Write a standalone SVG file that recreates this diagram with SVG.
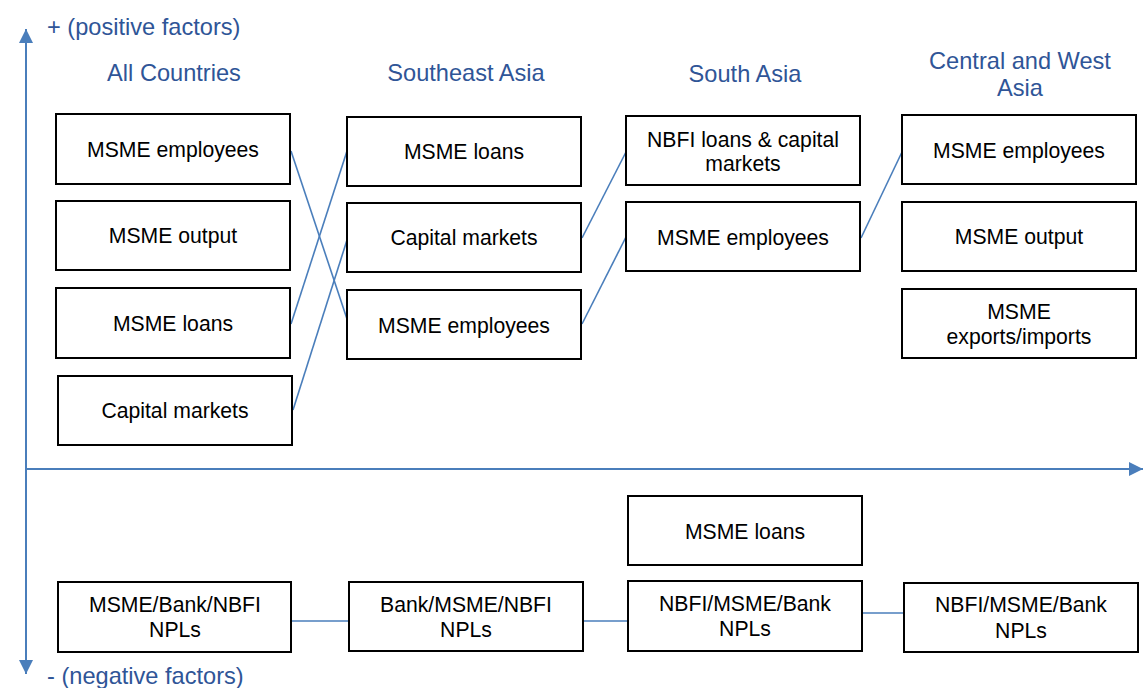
<svg xmlns="http://www.w3.org/2000/svg" width="1143" height="688" viewBox="0 0 1143 688">
<style>
.box rect{fill:#fff;stroke:#000;stroke-width:2}
.box text{font-family:"Liberation Sans",Arial,sans-serif;font-size:21.2px;fill:#000;text-anchor:middle}
.hdr{font-family:"Liberation Sans",Arial,sans-serif;font-size:23.6px;fill:#2F5597;text-anchor:middle}
.lbl{font-family:"Liberation Sans",Arial,sans-serif;font-size:23.6px;fill:#2F5597}
.conn line{stroke:#4A7EBB;stroke-width:1.6}
.axis line{stroke:#4A7EBB;stroke-width:2}
</style>
<defs>
<marker id="ah" viewBox="0 0 10 10" refX="10" refY="5" markerWidth="7" markerHeight="7" markerUnits="strokeWidth" orient="auto">
<path d="M0,0 L10,5 L0,10 z" fill="#4A7EBB"/>
</marker>
</defs>
<rect width="1143" height="688" fill="#fff"/>
<g id="axes" class="axis">
<line x1="26" y1="469" x2="26" y2="29" marker-end="url(#ah)"/>
<line x1="26" y1="469" x2="26" y2="674" marker-end="url(#ah)"/>
<line x1="26" y1="469" x2="1143" y2="469" marker-end="url(#ah)"/>
</g>
<text class="lbl" x="47" y="35">+ (positive factors)</text>
<text class="lbl" x="47" y="684">- (negative factors)</text>
<text class="hdr" x="174" y="81">All Countries</text>
<text class="hdr" x="466" y="81">Southeast Asia</text>
<text class="hdr" x="745" y="82">South Asia</text>
<text class="hdr" x="1020" y="69">Central and West</text>
<text class="hdr" x="1020" y="96">Asia</text>
<g id="connectors" class="conn">
<line x1="291" y1="151" x2="349" y2="325"/>
<line x1="291" y1="324" x2="347" y2="151"/>
<line x1="293" y1="410" x2="347" y2="240"/>
<line x1="582" y1="238" x2="626" y2="152"/>
<line x1="582" y1="324" x2="626" y2="237"/>
<line x1="861" y1="238" x2="902" y2="152"/>
<line x1="292" y1="621" x2="349" y2="621"/>
<line x1="584" y1="621" x2="628" y2="621"/>
<line x1="862" y1="613" x2="904" y2="613"/>
</g>
<g id="ac-employees" class="box"><rect x="56" y="114" width="234" height="70"/><text x="173" y="157">MSME employees</text></g>
<g id="ac-output" class="box"><rect x="56" y="201" width="234" height="69"/><text x="173" y="243">MSME output</text></g>
<g id="ac-loans" class="box"><rect x="56" y="288" width="234" height="70"/><text x="173" y="331">MSME loans</text></g>
<g id="ac-capital" class="box"><rect x="58" y="376" width="234" height="69"/><text x="175" y="418">Capital markets</text></g>
<g id="sea-loans" class="box"><rect x="347" y="117" width="234" height="69"/><text x="464" y="159">MSME loans</text></g>
<g id="sea-capital" class="box"><rect x="347" y="203" width="234" height="69"/><text x="464" y="245">Capital markets</text></g>
<g id="sea-employees" class="box"><rect x="347" y="290" width="234" height="69"/><text x="464" y="333">MSME employees</text></g>
<g id="sa-nbfi" class="box"><rect x="626" y="116" width="234" height="69"/><text x="743" y="147">NBFI loans &amp; capital</text><text x="743" y="171">markets</text></g>
<g id="sa-employees" class="box"><rect x="626" y="202" width="234" height="69"/><text x="743" y="245">MSME employees</text></g>
<g id="cwa-employees" class="box"><rect x="902" y="115" width="234" height="69"/><text x="1019" y="158">MSME employees</text></g>
<g id="cwa-output" class="box"><rect x="902" y="202" width="234" height="69"/><text x="1019" y="244">MSME output</text></g>
<g id="cwa-exports" class="box"><rect x="902" y="289" width="234" height="69"/><text x="1019" y="319">MSME</text><text x="1019" y="344">exports/imports</text></g>
<g id="sa-loans-neg" class="box"><rect x="628" y="496" width="234" height="69"/><text x="745" y="539">MSME loans</text></g>
<g id="ac-npl" class="box"><rect x="58" y="582" width="233" height="70"/><text x="175" y="612">MSME/Bank/NBFI</text><text x="175" y="637">NPLs</text></g>
<g id="sea-npl" class="box"><rect x="349" y="582" width="234" height="69"/><text x="466" y="612">Bank/MSME/NBFI</text><text x="466" y="637">NPLs</text></g>
<g id="sa-npl" class="box"><rect x="628" y="581" width="234" height="70"/><text x="745" y="611">NBFI/MSME/Bank</text><text x="745" y="636">NPLs</text></g>
<g id="cwa-npl" class="box"><rect x="904" y="583" width="234" height="69"/><text x="1021" y="612">NBFI/MSME/Bank</text><text x="1021" y="638">NPLs</text></g>
</svg>
